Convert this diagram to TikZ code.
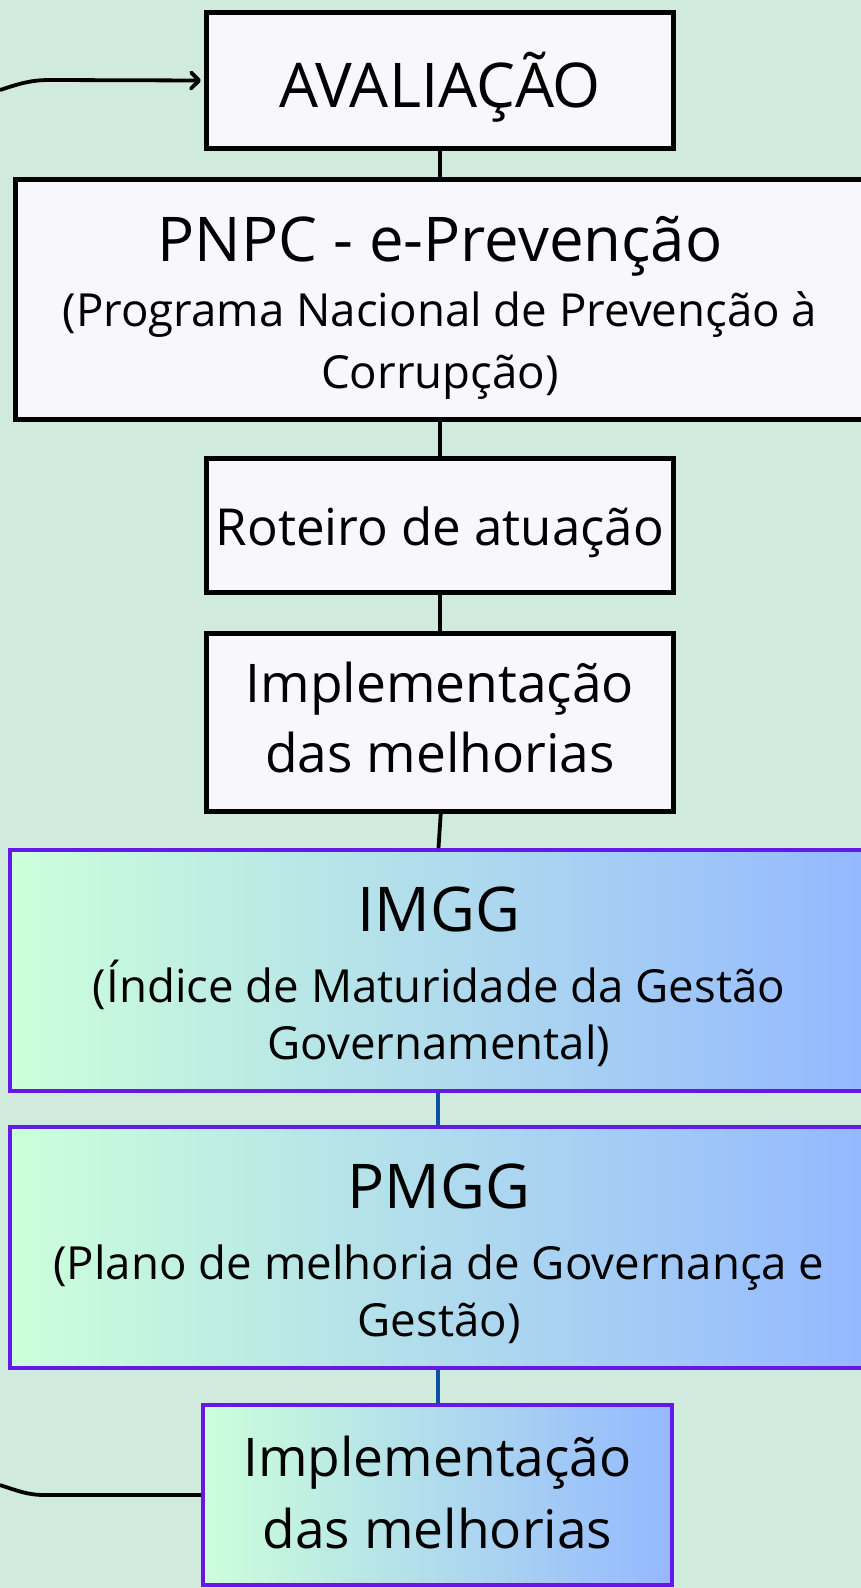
\documentclass[tikz,border=0pt]{standalone}
\usepackage{fontspec}
\setmainfont{Open Sans}
\usetikzlibrary{arrows.meta}
\definecolor{bgc}{HTML}{D0EBDD}
\definecolor{boxfill}{HTML}{F7F7FC}
\definecolor{purp}{HTML}{6419E6}
\definecolor{bluec}{HTML}{0B4FA8}
\definecolor{gl}{HTML}{CCFFDA}
\definecolor{gr}{HTML}{94B8FF}
\tikzset{
  plainbox/.style={draw=black, line width=5pt, fill=boxfill, inner sep=0pt, rectangle},
  gradbox/.style={draw=purp, line width=4pt, left color=gl, right color=gr, inner sep=0pt, rectangle},
  conn/.style={draw=black, line width=3.8pt},
  bconn/.style={draw=bluec, line width=4pt},
  big/.style={anchor=base, inner sep=0pt, font=\fontsize{61.7}{62}\selectfont},
  med/.style={anchor=base, inner sep=0pt, font=\fontsize{53.3}{54}\selectfont},
  rotf/.style={anchor=base, inner sep=0pt, font=\fontsize{51}{52}\selectfont},
  sub/.style={anchor=base, inner sep=0pt, font=\fontsize{45.6}{46}\selectfont},
}
\begin{document}
\begin{tikzpicture}[x=1pt,y=-1pt]
\fill[bgc] (0,0) rectangle (861,1588);
\useasboundingbox (0,0) rectangle (861,1588);
% boxes
\node[plainbox, minimum width=467pt, minimum height=136pt] (aval) at (440,80.5) {};
\node[plainbox, minimum width=850pt, minimum height=240pt] (pnpc) at (440.5,299.5) {};
\node[plainbox, minimum width=467pt, minimum height=134pt] (rot) at (440,525.5) {};
\node[plainbox, minimum width=467pt, minimum height=178pt] (imp1) at (440,722.5) {};
\node[gradbox, minimum width=858pt, minimum height=241pt] (imgg) at (439,970.5) {};
\node[gradbox, minimum width=858pt, minimum height=241pt] (pmgg) at (439,1247.5) {};
\node[gradbox, minimum width=469pt, minimum height=180pt] (imp2) at (437.5,1495) {};
% texts
\node[big] (t1) at (440,107) {AVALIAÇÃO};
\node[big] (t2) at (440,261.5) {PNPC - e-Prevenção};
\node[sub] (t3) at (440,326.5) {(Programa Nacional de Prevenção à};
\node[sub] (t4) at (440,388) {Corrupção)};
\node[rotf] (t5) at (440,545) {Roteiro de atuação};
\node[med] (t6) at (440,702) {Implementação};
\node[med] (t7) at (440,772.5) {das melhorias};
\node[big] (t8) at (439,931) {IMGG};
\node[sub] (t9) at (439,1002.5) {(Índice de Maturidade da Gestão};
\node[sub] (t10) at (439,1059) {Governamental)};
\node[big] (t11) at (439,1208) {PMGG};
\node[sub] (t12) at (439,1279.5) {(Plano de melhoria de Governança e};
\node[sub] (t13) at (439,1336) {Gestão)};
\node[med] (t14) at (437.5,1476) {Implementação};
\node[med] (t15) at (437.5,1548) {das melhorias};
% connectors
\coordinate (ls) at (0,90);
\coordinate (le) at (0,1485);
\draw[conn, -{Straight Barb[length=8pt,width=16pt,line cap=round,line join=round]}, shorten >=3pt] (ls) to[out=18,in=180] (50,80) -- (aval.west);
\draw[conn] (imp2.west) -- (45,1495) to[out=180,in=-18] (le);
\draw[conn] (aval.south) -- (pnpc.north -| aval.south);
\draw[conn] (pnpc.south -| rot.north) -- (rot.north);
\draw[conn] (rot.south) -- (imp1.north);
\draw[conn] ([xshift=0.7pt]imp1.south) -- ([xshift=-1.5pt]imgg.north -| imp1.south);
\draw[bconn] ([xshift=-0.7pt]imgg.south) -- ([xshift=-0.7pt]pmgg.north);
\draw[bconn] (pmgg.south -| imp2.north) -- (imp2.north);
\end{tikzpicture}
\end{document}
